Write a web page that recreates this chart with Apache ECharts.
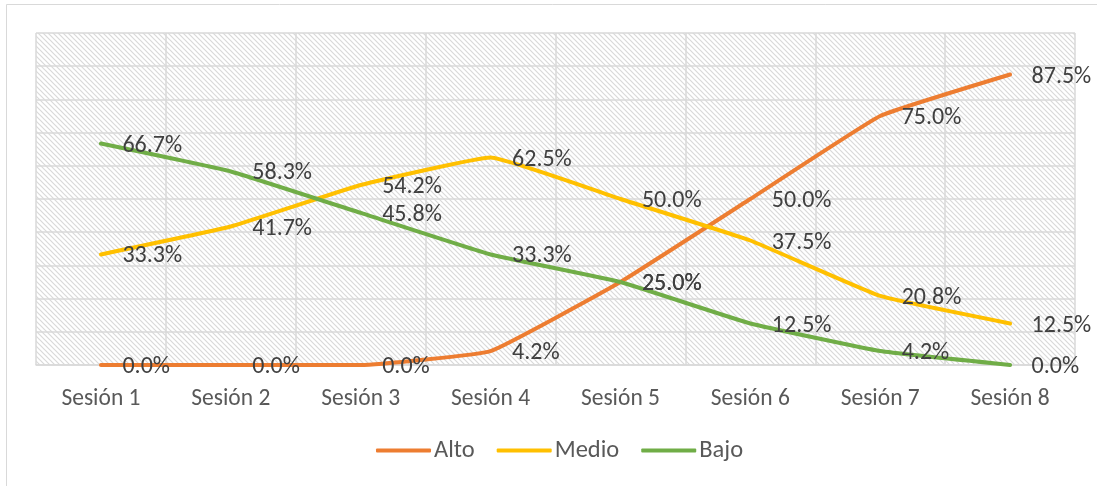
<!DOCTYPE html>
<html style="height: 100%">
<head>
<meta charset="utf-8">
<title>Sesiones</title>
<script src="https://cdn.jsdelivr.net/npm/echarts@6/dist/echarts.min.js"></script>
</head>
<body style="height: 100%; margin: 0; background: #fff">
<div id="container" style="width: 1097px; height: 486px"></div>
<script type="text/javascript">
var categories = ['Sesión 1', 'Sesión 2', 'Sesión 3', 'Sesión 4', 'Sesión 5', 'Sesión 6', 'Sesión 7', 'Sesión 8'];
var alto = [0.0, 0.0, 0.0, 4.2, 25.0, 50.0, 75.0, 87.5];
var medio = [33.3, 41.7, 54.2, 62.5, 50.0, 37.5, 20.8, 12.5];
var bajo = [66.7, 58.3, 45.8, 33.3, 25.0, 12.5, 4.2, 0.0];

var FONT = 'Carlito, "Liberation Sans", sans-serif';

// diagonal hatch for the plot background
var P = 5;
var hatch = document.createElement('canvas');
hatch.width = P;
hatch.height = P;
var ctx = hatch.getContext('2d');
ctx.fillStyle = '#ffffff';
ctx.fillRect(0, 0, P, P);
ctx.strokeStyle = '#d9d9d9';
ctx.lineWidth = 1.2;
ctx.beginPath();
ctx.moveTo(-1, -1); ctx.lineTo(P + 1, P + 1);
ctx.moveTo(-1, P - 1); ctx.lineTo(1, P + 1);
ctx.moveTo(P - 1, -1); ctx.lineTo(P + 1, 1);
ctx.stroke();

function makeSeries(name, data, color) {
    return {
        name: name,
        type: 'line',
        data: data,
        smooth: 0.1,
        symbol: 'circle',
        symbolSize: 1,
        showSymbol: true,
        itemStyle: { color: color },
        lineStyle: { color: color, width: 4, cap: 'round' },
        label: {
            show: true,
            position: 'right',
            distance: 21,
            offset: [0, 2],
            color: '#404040',
            fontFamily: FONT,
            fontSize: 24,
            formatter: function (p) { return p.value.toFixed(1) + '%'; }
        },
        emphasis: { disabled: true }
    };
}

var dom = document.getElementById('container');
var myChart = echarts.init(dom);
var option = {
    backgroundColor: '#ffffff',
    animation: false,
    textStyle: { fontFamily: FONT },
    graphic: [{
        type: 'rect',
        shape: { x: 6.5, y: 4.5, width: 1200, height: 600 },
        style: { fill: 'none', stroke: '#d9d9d9', lineWidth: 1 },
        silent: true
    }],
    grid: {
        left: 36,
        right: 22,
        top: 33,
        bottom: 121,
        show: true,
        borderWidth: 0,
        backgroundColor: { image: hatch, repeat: 'repeat' }
    },
    legend: {
        data: ['Alto', 'Medio', 'Bajo'],
        left: 376,
        top: 438,
        padding: 0,
        itemWidth: 55,
        itemHeight: 4,
        itemGap: 22,
        icon: 'roundRect',
        textStyle: { color: '#595959', fontSize: 24.5, fontFamily: FONT, padding: [0, 0, 0, -2] }
    },
    xAxis: {
        type: 'category',
        data: categories,
        boundaryGap: true,
        axisLine: { lineStyle: { color: '#d9d9d9', width: 1.5 } },
        axisTick: { show: false },
        axisLabel: { color: '#595959', fontSize: 23.5, fontFamily: FONT, margin: 22 },
        splitLine: { show: true, interval: 0, lineStyle: { color: '#d9d9d9', width: 1.5 } }
    },
    yAxis: {
        type: 'value',
        min: 0,
        max: 100,
        interval: 10,
        axisLabel: { show: false },
        axisLine: { show: false },
        axisTick: { show: false },
        splitLine: { lineStyle: { color: '#d9d9d9', width: 1.5 } }
    },
    series: [
        makeSeries('Alto', alto, '#ED7D31'),
        makeSeries('Medio', medio, '#FFC000'),
        makeSeries('Bajo', bajo, '#70AD47')
    ]
};
myChart.setOption(option, true);
</script>
</body>
</html>
